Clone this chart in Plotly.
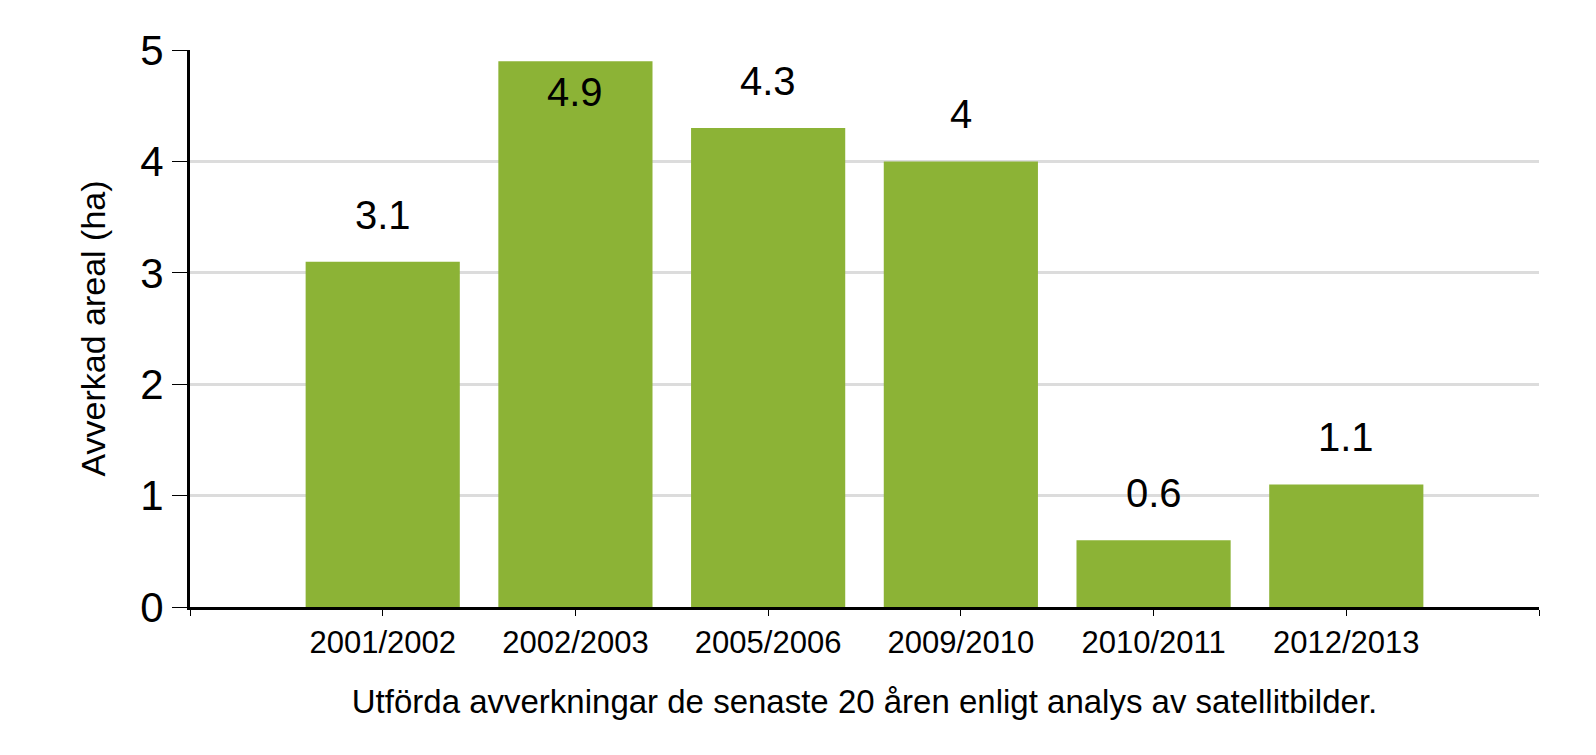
import plotly.graph_objects as go

categories = ["2001/2002", "2002/2003", "2005/2006", "2009/2010", "2010/2011", "2012/2013"]
values = [3.1, 4.9, 4.3, 4.0, 0.6, 1.1]
value_labels = ["3.1", "4.9", "4.3", "4", "0.6", "1.1"]
y_ticks = [0, 1, 2, 3, 4, 5]

FONT = "Liberation Sans, Arial, sans-serif"
GREEN = "#8cb336"
Y_MAX = 5

xpos = list(range(len(categories)))

fig = go.Figure()
fig.add_trace(go.Bar(
    x=xpos, y=values, width=0.8,
    marker=dict(color=GREEN, line=dict(width=0)),
    hoverinfo="skip",
))

for x, v, t in zip(xpos, values, value_labels):
    inside = v + 0.4 > Y_MAX
    fig.add_annotation(
        x=x, y=v, xref="x", yref="y", text=t, showarrow=False,
        yanchor="middle", yshift=(-31 if inside else 47),
        font=dict(family=FONT, size=40, color="black"),
    )

fig.update_layout(
    width=1580, height=739,
    margin=dict(l=182, r=49, t=42, b=140),
    plot_bgcolor="white", paper_bgcolor="white",
    showlegend=False,
    bargap=0.2,
    font=dict(family=FONT, color="black"),
)

fig.update_xaxes(
    range=[-1, len(categories)],
    tickmode="array",
    tickvals=[-1] + xpos + [len(categories)],
    ticktext=[""] + categories + [""],
    ticks="outside", ticklen=6, tickwidth=1, tickcolor="black",
    showline=True, linewidth=3, linecolor="black",
    showgrid=False, zeroline=False,
    tickfont=dict(family=FONT, size=31, color="black"),
    title=dict(text="Utförda avverkningar de senaste 20 åren enligt analys av satellitbilder.",
               font=dict(family=FONT, size=33, color="black"), standoff=31),
)

fig.update_yaxes(
    range=[0, Y_MAX],
    tickmode="array", tickvals=y_ticks,
    ticks="outside", ticklen=15, tickwidth=1, tickcolor="black",
    showline=True, linewidth=3, linecolor="black",
    showgrid=True, gridcolor="#dcdcdc", gridwidth=3,
    zeroline=False,
    tickfont=dict(family=FONT, size=42, color="black"),
    ticklabelstandoff=0,
    title=dict(text="Avverkad areal (ha)",
               font=dict(family=FONT, size=34, color="black"), standoff=25),
)

fig.write_html("out.html")
